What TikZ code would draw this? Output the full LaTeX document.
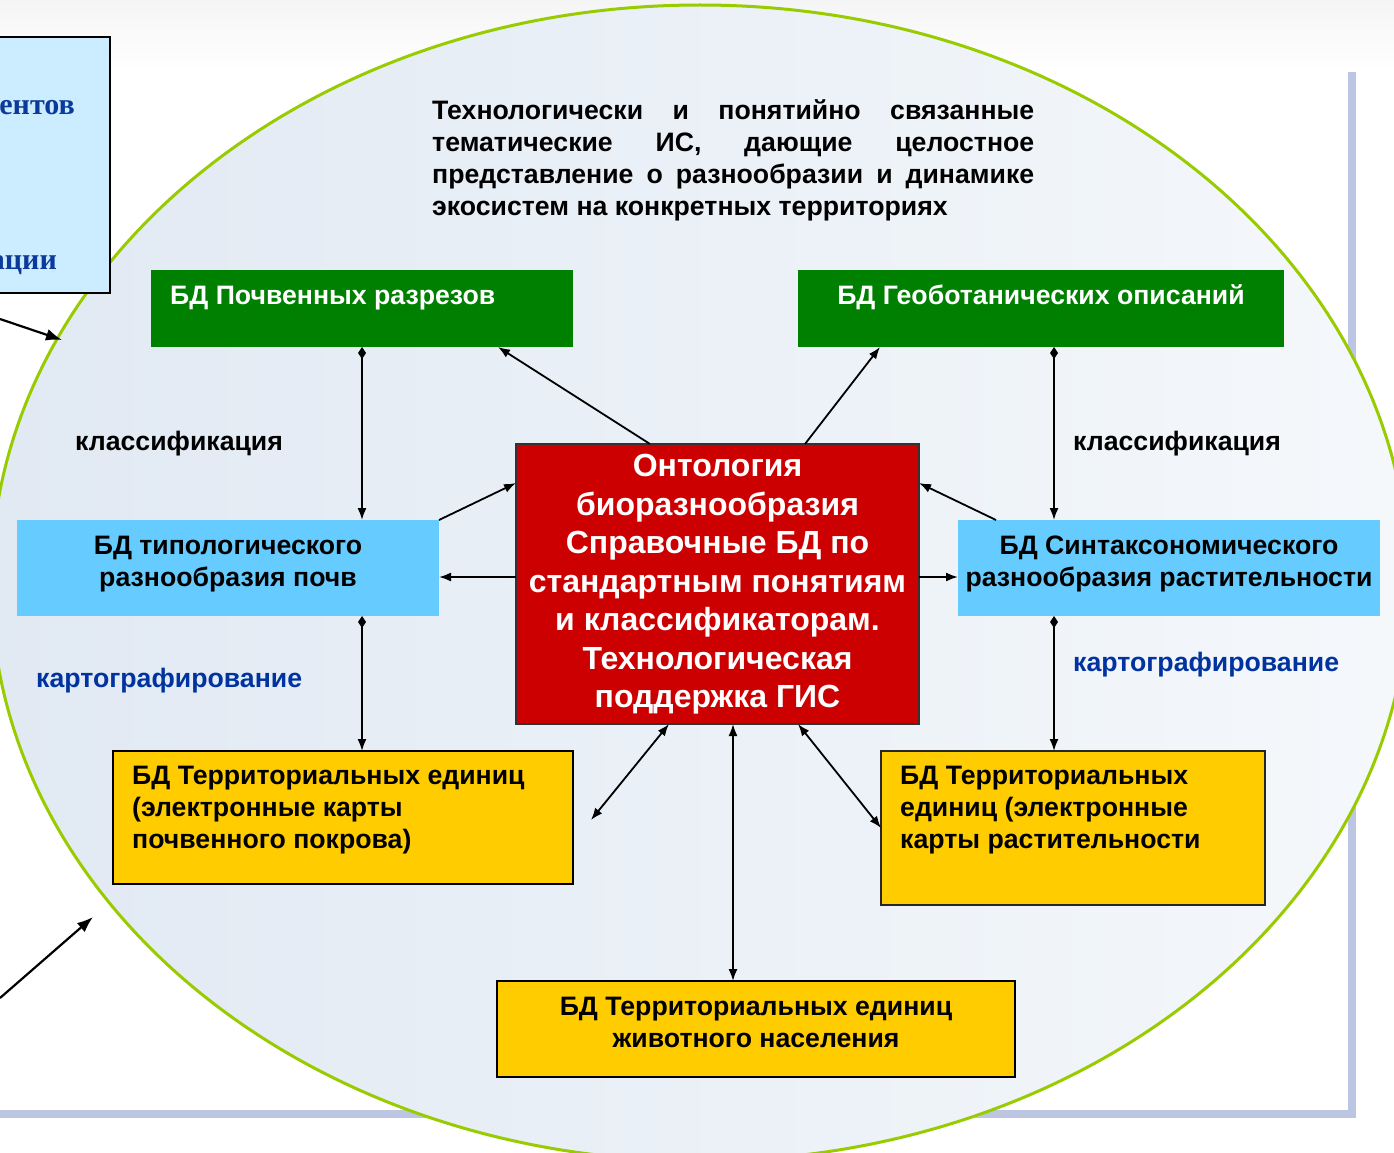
\documentclass[tikz,border=0pt]{standalone}
\usepackage{fontspec}
\setmainfont{Liberation Sans}
\newfontfamily\lbserif{Liberation Serif}
\usetikzlibrary{arrows.meta,shapes.geometric}
\definecolor{gbox}{HTML}{008000}
\definecolor{bbox}{HTML}{66CCFF}
\definecolor{rbox}{HTML}{CC0000}
\definecolor{ybox}{HTML}{FFCC00}
\definecolor{lblue}{HTML}{0033A0}
\definecolor{lbfill}{HTML}{CCECFF}
\definecolor{lbtext}{HTML}{0A3A9A}
\definecolor{ellline}{HTML}{99CC00}
\definecolor{ellA}{HTML}{E1E9F3}
\definecolor{ellB}{HTML}{F5F8FB}
\definecolor{framec}{HTML}{BCC6E2}
\begin{document}
\begin{tikzpicture}[x=1pt,y=-1pt,
  box/.style={rectangle, inner sep=0pt, outer sep=0pt},
  txt/.style={inner sep=0pt, font=\fontsize{26.67}{32}\selectfont\bfseries},
  sertxt/.style={anchor=base east, inner sep=0pt, font=\lbserif\fontsize{30}{34}\selectfont\bfseries, text=lbtext},
  bigtxt/.style={inner sep=0pt, font=\fontsize{32}{38.5}\selectfont\bfseries, text=white},
  arr/.style={line width=1.8pt, -{Latex[length=12pt,width=9pt]}},
  darr/.style={line width=1.8pt, {Latex[length=12pt,width=9pt]}-{Latex[length=12pt,width=9pt]}},
  diarr/.style={line width=1.8pt, {Diamond[length=12pt,width=8pt]}-{Latex[length=12pt,width=9pt]}},
  bigarr/.style={line width=2.2pt, -{Latex[length=16pt,width=12pt]}}]
\useasboundingbox (0,0) rectangle (1394,1153);
\fill[white] (0,0) rectangle (1394,1153);
\shade[top color=black!4, bottom color=white] (0,0) rectangle (1394,70);
% frame
\draw[framec, line width=8pt] (1352,72) -- (1352,1114) -- (-5,1114);
% ellipse
\shadedraw[left color=ellA, right color=ellB, draw=ellline, line width=3pt]
  (700,583) ellipse [x radius=709pt, y radius=578pt];
% left box
\node[box, fill=lbfill, draw=black, line width=2.5pt, minimum width=120pt, minimum height=256pt] (lb) at (50,165) {};
\node[sertxt] (lbt1) at (75,115) {ентов};
\node[sertxt] (lbt2) at (57,269) {ации};
\coordinate (la1) at (0,319);
\coordinate (la1e) at (62,340);
\coordinate (la2) at (0,998);
\coordinate (la2e) at (93,917);
\draw[bigarr] (la1) -- (la1e);
\draw[bigarr] (la2) -- (la2e);
% top paragraph
\node[txt, anchor=north west, align=left] (para) at (432,96.5) {%
\strut\makebox[602pt][s]{Технологически и понятийно связанные}\\
\makebox[602pt][s]{тематические ИС, дающие целостное}\\
\makebox[602pt][s]{представление о разнообразии и динамике}\\
экосистем на конкретных территориях};
% boxes
\node[box, fill=gbox, minimum width=422pt, minimum height=77pt] (g1) at (362,308.5) {};
\node[box, fill=gbox, minimum width=486pt, minimum height=77pt] (g2) at (1041,308.5) {};
\node[box, fill=bbox, minimum width=422pt, minimum height=96pt] (b1) at (228,568) {};
\node[box, fill=bbox, minimum width=422pt, minimum height=96pt] (b2) at (1169,568) {};
\node[box, fill=rbox, draw=black!80, line width=1.5pt, minimum width=403pt, minimum height=280pt] (red) at (717.5,584) {};
\node[box, fill=ybox, draw=black, line width=2pt, minimum width=460pt, minimum height=133pt] (y1) at (343,817.5) {};
\node[box, fill=ybox, draw=black!85, line width=2pt, minimum width=384pt, minimum height=154pt] (y2) at (1073,828) {};
\node[box, fill=ybox, draw=black, line width=2pt, minimum width=518pt, minimum height=96pt] (y3) at (756,1029) {};
% box texts
\node[txt, text=white, anchor=base west] (g1t) at (170,304) {БД Почвенных разрезов};
\node[txt, text=white, anchor=base] (g2t) at (1041,304) {БД Геоботанических описаний};
\node[txt, anchor=north, align=center] (b1t) at (228,531.5) {\strut БД типологического\\разнообразия почв};
\node[txt, anchor=north, align=center] (b2t) at (1169,531.5) {\strut БД Синтаксономического\\разнообразия растительности};
\node[bigtxt, anchor=north, align=center] (redt) at (717.5,449.5) {\strut Онтология\\биоразнообразия\\Справочные БД по\\стандартным понятиям\\и классификаторам.\\Технологическая\\поддержка ГИС};
\node[txt, anchor=north west, align=left] (y1t) at (132,761.6) {\strut БД Территориальных единиц\\(электронные карты\\почвенного покрова)};
\node[txt, anchor=north west, align=left] (y2t) at (900,761.6) {\strut БД Территориальных\\единиц (электронные\\карты растительности};
\node[txt, anchor=north, align=center] (y3t) at (756,992.5) {\strut БД Территориальных единиц\\животного населения};
% labels
\node[txt, anchor=base west] (cl1) at (75,450) {классификация};
\node[txt, anchor=base west] (cl2) at (1073,450) {классификация};
\node[txt, text=lblue, anchor=base west] (kg1) at (36,687) {картографирование};
\node[txt, text=lblue, anchor=base west] (kg2) at (1073,671) {картографирование};
% connectors
\draw[diarr] ([xshift=211pt]g1.south west) -- ([xshift=345pt]b1.north west);
\draw[diarr] ([xshift=345pt]b1.south west) -- ([xshift=249pt]y1.north west);
\draw[diarr] ([xshift=256pt]g2.south west) -- ([xshift=96pt]b2.north west);
\draw[diarr] ([xshift=96pt]b2.south west) -- ([xshift=173pt]y2.north west);
\draw[arr] ([xshift=134pt]red.north west) -- ([xshift=-75pt]g1.south east);
\draw[arr] ([xshift=289pt]red.north west) -- ([xshift=82pt]g2.south west);
\draw[arr] (b1.north east) -- ([yshift=-39pt]red.north west);
\draw[arr] ([yshift=7pt]red.west) -- ([yshift=-9pt]b1.east);
\draw[arr] ([xshift=38pt]b2.north west) -- ([yshift=-39pt]red.north east);
\draw[arr] ([yshift=7pt]red.east) -- ([yshift=-9pt]b2.west);
\coordinate (k1) at (591,820);
\draw[darr] ([xshift=153pt]red.south west) -- (k1);
\draw[darr] ([xshift=217pt]red.south west) -- ([xshift=236pt]y3.north west);
\draw[darr] ([xshift=282pt]red.south west) -- ([yshift=-77pt]y2.north west);
\end{tikzpicture}
\end{document}
